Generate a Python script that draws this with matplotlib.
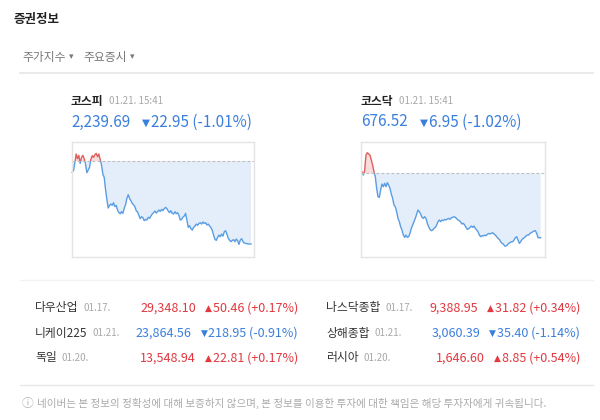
import numpy as np
import matplotlib.pyplot as plt
from matplotlib.patches import Rectangle

plt.rcParams['font.family'] = ['Noto Sans CJK KR', 'DejaVu Sans']

# 코스피 장중 지수 (전일 종가 기준)
kospi_prev = 2262.64
kospi_values = [
    2259.51, 2259.97, 2262.18, 2264.58, 2263.29, 2264.21, 2261.99, 2263.65, 2264.21, 2263.29,
    2261.81, 2259.41, 2260.15, 2260.89, 2263.10, 2264.12, 2263.65, 2264.39, 2264.76, 2263.84,
    2264.58, 2263.10, 2261.53, 2259.04, 2258.12, 2254.80, 2252.04, 2249.64, 2250.38, 2250.75,
    2250.38, 2251.11, 2250.01, 2250.38, 2249.09, 2248.35, 2248.07, 2248.63, 2248.16, 2249.55,
    2250.56, 2252.31, 2253.33, 2252.31, 2251.67, 2250.93, 2250.56, 2250.01, 2248.90, 2248.53,
    2247.61, 2246.69, 2247.24, 2246.97, 2246.14, 2246.50, 2246.32, 2247.06, 2246.78, 2247.43,
    2247.98, 2248.35, 2248.81, 2248.26, 2248.63, 2249.09, 2248.72, 2249.27, 2248.90, 2249.46,
    2249.82, 2249.46, 2248.81, 2248.35, 2248.90, 2248.16, 2247.98, 2248.63, 2248.07, 2248.35,
    2247.61, 2246.32, 2246.50, 2247.15, 2247.43, 2248.16, 2246.23, 2244.29, 2244.75, 2243.92,
    2243.55, 2244.29, 2244.66, 2245.21, 2244.85, 2245.40, 2245.58, 2245.21, 2245.77, 2245.40,
    2245.58, 2244.94, 2245.21, 2244.66, 2244.20, 2243.46, 2242.08, 2240.97, 2240.70, 2241.53,
    2242.17, 2241.71, 2242.45, 2241.89, 2243.09, 2243.37, 2242.36, 2241.25, 2240.70, 2240.33,
    2240.70, 2240.88, 2240.33, 2241.07, 2240.60, 2239.59, 2240.79, 2241.16, 2240.33, 2239.96,
    2239.87, 2239.77, 2239.69, 2239.69, 2239.69,
]

# 코스닥 장중 지수
kosdaq_prev = 683.47
kosdaq_values = [
    683.65, 683.29, 683.76, 685.45, 685.70, 685.56, 685.45, 684.91, 684.37, 683.65,
    683.11, 681.85, 680.95, 680.88, 681.67, 682.32, 682.03, 682.39, 682.03, 682.46,
    682.21, 681.85, 681.24, 680.77, 680.05, 679.87, 679.33, 678.61, 678.25, 677.71,
    677.35, 676.81, 676.56, 676.81, 676.56, 676.63, 676.99, 677.53, 677.89, 678.25,
    678.61, 679.08, 679.51, 679.33, 679.08, 678.72, 678.61, 678.79, 678.61, 678.07,
    677.71, 677.42, 677.28, 677.35, 677.53, 677.64, 677.89, 678.25, 678.43, 678.25,
    678.43, 678.36, 678.50, 678.43, 678.54, 678.61, 678.50, 678.68, 678.72, 678.79,
    678.72, 678.57, 678.43, 678.36, 678.21, 678.00, 678.07, 677.89, 677.64, 677.42,
    677.49, 677.64, 677.78, 677.64, 677.78, 677.53, 677.35, 677.17, 676.81, 676.63,
    676.74, 676.70, 676.81, 676.74, 676.88, 676.99, 676.92, 676.99, 677.06, 676.92,
    676.81, 676.63, 676.45, 676.34, 676.09, 675.91, 675.84, 675.62, 675.62, 675.73,
    675.91, 675.98, 676.09, 676.09, 676.27, 676.52, 676.63, 676.27, 675.91, 676.09,
    676.34, 676.45, 676.56, 676.70, 676.81, 676.81, 676.99, 677.06, 677.17, 677.24,
    677.28, 676.99, 676.52, 676.52, 676.52,
]

head_names = ['코스피', '코스닥']
head_times = ['01.21. 15:41', '01.21. 15:41']
head_prices = ['2,239.69', '676.52']
head_changes = ['22.95 (-1.01%)', '6.95 (-1.02%)']

world_names = ['다우산업', '니케이225', '독일', '나스닥종합', '상해종합', '러시아']
world_dates = ['01.17.', '01.21.', '01.20.', '01.17.', '01.21.', '01.20.']
world_prices = ['29,348.10', '23,864.56', '13,548.94', '9,388.95', '3,060.39', '1,646.60']
world_changes = ['50.46 (+0.17%)', '218.95 (-0.91%)', '22.81 (+0.17%)',
                 '31.82 (+0.34%)', '35.40 (-1.14%)', '8.85 (+0.54%)']
world_up = [True, False, True, True, False, True]

notice = '네이버는 본 정보의 정확성에 대해 보증하지 않으며, 본 정보를 이용한 투자에 대한 책임은 해당 투자자에게 귀속됩니다.'

RED = '#e2383f'
BLUE = '#3b7fdd'
GRAY = '#a8a8a8'

fig = plt.figure(figsize=(6, 4.2), dpi=100)
bg = fig.add_axes([0, 0, 1, 1])
bg.set_xlim(0, 600)
bg.set_ylim(420, 0)
bg.axis('off')
renderer = fig.canvas.get_renderer()


def put(x, y, s, ha='left', **kw):
    t = bg.text(x, y, s, ha=ha, va='center', **kw)
    bb = t.get_window_extent(renderer)
    return bb.x0, bb.x1


# 제목, 탭
put(14, 20, '증권정보', fontsize=9, fontweight='bold', color='#222222')
_, r = put(22, 58, '주가지수', fontsize=8.5, color='#777777')
put(r + 3, 57, '▾', fontsize=6.5, color='#777777', family='DejaVu Sans')
_, r = put(83, 58, '주요증시', fontsize=8.5, color='#777777')
put(r + 3, 57, '▾', fontsize=6.5, color='#777777', family='DejaVu Sans')
bg.plot([20, 593], [72.5, 72.5], color='#e6e6e6', lw=1.2)

# 코스피 / 코스닥 헤더
for x0, name, tm, price, chg in zip([71, 361], head_names, head_times, head_prices, head_changes):
    _, r = put(x0, 101, name, fontsize=8.5, fontweight='bold', color='#222222')
    put(r + 5, 101, tm, fontsize=7, color=GRAY)
    _, r = put(x0, 122, price, fontsize=11, color=BLUE)
    _, r = put(r + 12, 123, '▼', fontsize=7.5, color=BLUE, family='DejaVu Sans')
    put(r + 1, 122, chg, fontsize=11, color=BLUE)


def intraday(rect, values, prev):
    ax = fig.add_axes(rect)
    v = np.array(values)
    x = np.arange(len(v))
    ax.fill_between(x, v, prev, where=v <= prev, interpolate=True, color='#e4eefa', lw=0)
    ax.fill_between(x, v, prev, where=v >= prev, interpolate=True, color='#f9dcdc', lw=0)
    lo, hi = v.min() - 100, v.max() + 100
    blue, = ax.plot(x, v, color='#5a9de3', lw=1.0)
    blue.set_clip_path(Rectangle((-5, lo), len(v) + 10, prev - lo, transform=ax.transData))
    red, = ax.plot(x, v, color='#e0605c', lw=1.0)
    red.set_clip_path(Rectangle((-5, prev), len(v) + 10, hi - prev, transform=ax.transData))
    ax.axhline(prev, color='#bdbdbd', lw=0.8, ls=(0, (2.5, 2)))
    ax.set_xticks([])
    ax.set_yticks([])
    for s in ax.spines.values():
        s.set_color('#e4e4e4')
        s.set_linewidth(1.0)
    return ax


ax1 = intraday([71.5 / 600, 1 - 256.7 / 420, 182.5 / 600, 115 / 420], kospi_values, kospi_prev)
ax1.set_xlim(-0.5, 136.25)
ax1.set_ylim(2236.18, 2267.99)
ax2 = intraday([361.3 / 600, 1 - 256.7 / 420, 183.4 / 600, 115 / 420], kosdaq_values, kosdaq_prev)
ax2.set_xlim(-0.5, 137)
ax2.set_ylim(674.47, 686.89)

# 해외 지수 표
bg.plot([20, 593], [280, 280], color='#f2f2f2', lw=1)
bg.plot([20, 593], [385, 385], color='#e8e8e8', lw=1)
rows_y = [308, 333, 358]
for i, (name, dt, price, chg, up) in enumerate(zip(world_names, world_dates, world_prices,
                                                  world_changes, world_up)):
    col = i // 3
    y = rows_y[i % 3]
    left = [35, 326][col]
    right = [298, 580][col]
    c = RED if up else BLUE
    _, r = put(left, y, name, fontsize=8.5, color='#333333')
    put(r + 5, y, dt, fontsize=7, color=GRAY)
    l, _ = put(right, y, chg, ha='right', fontsize=9, color=c)
    l, _ = put(l - 1, y + 0.5, '▲' if up else '▼', ha='right', fontsize=6.5, color=c,
               family='DejaVu Sans')
    put(l - 9, y, price, ha='right', fontsize=9, color=c)

# 안내문
put(22, 403, 'ⓘ', fontsize=8.5, color='#b0b0b0')
put(37, 403, notice, fontsize=7.6, color='#aaaaaa')

fig.savefig('out.png', dpi=100)
